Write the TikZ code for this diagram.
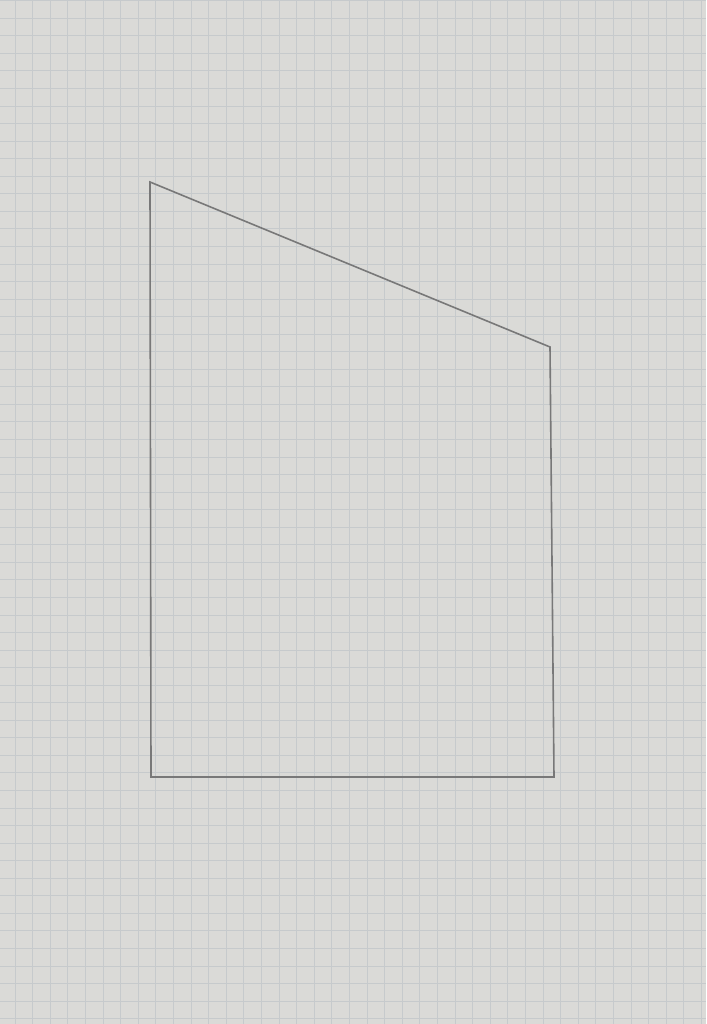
\documentclass[tikz,border=0pt]{standalone}
\definecolor{paper}{RGB}{218,218,215}
\definecolor{gridline}{RGB}{198,202,204}
\definecolor{pencil}{RGB}{120,120,120}
\tikzset{
  gridstyle/.style={draw=gridline, line width=1pt},
  pencilline/.style={draw=pencil, line width=1.6pt, line join=miter}
}
\begin{document}
\begin{tikzpicture}[x=1pt,y=-1pt]
\fill[paper] (0,0) rectangle (706,1024);
\useasboundingbox (0,0) rectangle (706,1024);
\foreach \i in {0,...,40} {
  \draw[gridstyle] ({15+17.6*\i-17.6},0) -- ({15+17.6*\i-17.6},1024);
}
\foreach \j in {0,...,58} {
  \draw[gridstyle] (0,{18.3+17.55*\j-17.55}) -- (706,{18.3+17.55*\j-17.55});
}
\coordinate (tl) at (150,182);
\coordinate (tr) at (550,347);
\coordinate (br) at (554,777);
\coordinate (bl) at (151,777);
\draw[pencilline] (tl) -- (tr) -- (br) -- (bl) -- cycle;
\end{tikzpicture}
\end{document}
